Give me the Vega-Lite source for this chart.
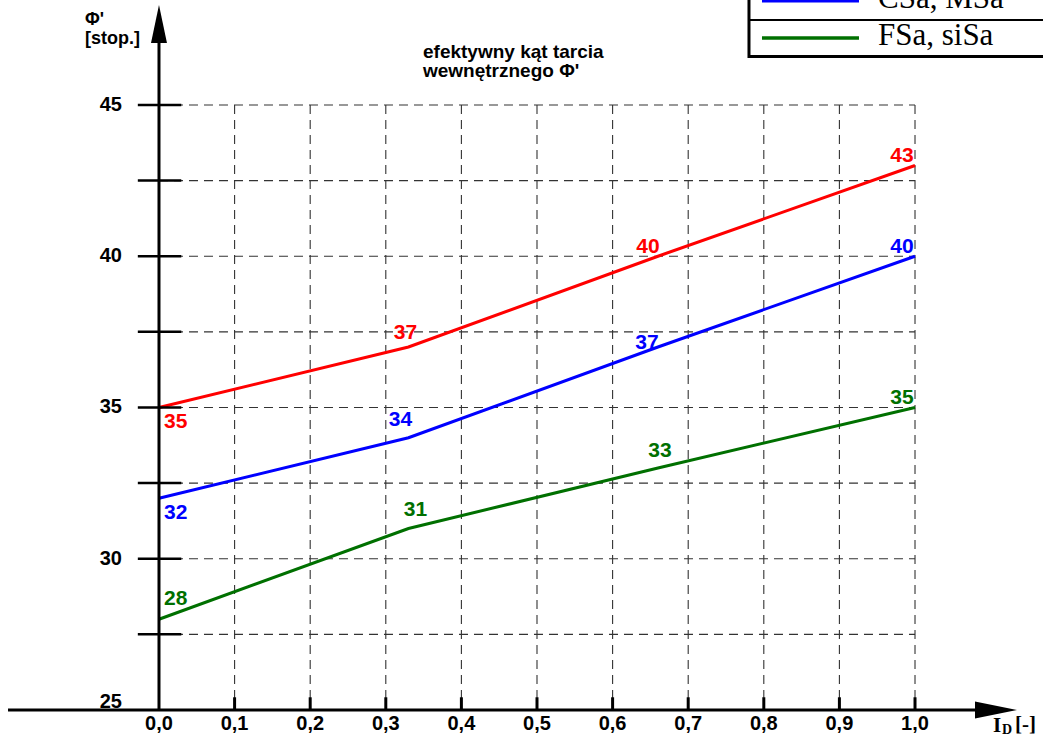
{
  "$schema": "https://vega.github.io/schema/vega-lite/v6.json",
  "width": 1043,
  "height": 738,
  "autosize": "none",
  "padding": 0,
  "background": "white",
  "config": {
    "view": {"stroke": null},
    "locale": {"number": {"decimal": ",", "thousands": " ", "grouping": [3], "currency": ["", " zł"]}},
    "text": {"font": "Liberation Sans", "fontWeight": "bold"}
  },
  "datasets": {
    "one": [{}],
    "series": [
      {"series": "Gr, saGr", "x": 0, "y": 35},
      {"series": "Gr, saGr", "x": 0.33, "y": 37},
      {"series": "Gr, saGr", "x": 0.66, "y": 40},
      {"series": "Gr, saGr", "x": 1.0, "y": 43},
      {"series": "CSa, MSa", "x": 0, "y": 32},
      {"series": "CSa, MSa", "x": 0.33, "y": 34},
      {"series": "CSa, MSa", "x": 0.66, "y": 37},
      {"series": "CSa, MSa", "x": 1.0, "y": 40},
      {"series": "FSa, siSa", "x": 0, "y": 28},
      {"series": "FSa, siSa", "x": 0.33, "y": 31},
      {"series": "FSa, siSa", "x": 0.66, "y": 33},
      {"series": "FSa, siSa", "x": 1.0, "y": 35}
    ],
    "hgrid": [{"y": 27.5}, {"y": 30}, {"y": 32.5}, {"y": 35}, {"y": 37.5}, {"y": 40}, {"y": 42.5}, {"y": 45}],
    "vgrid": [{"x": 0.1}, {"x": 0.2}, {"x": 0.3}, {"x": 0.4}, {"x": 0.5}, {"x": 0.6}, {"x": 0.7}, {"x": 0.8}, {"x": 0.9}, {"x": 1.0}],
    "ylab": [{"y": 25}, {"y": 30}, {"y": 35}, {"y": 40}, {"y": 45}],
    "xlab": [{"x": 0}, {"x": 0.1}, {"x": 0.2}, {"x": 0.3}, {"x": 0.4}, {"x": 0.5}, {"x": 0.6}, {"x": 0.7}, {"x": 0.8}, {"x": 0.9}, {"x": 1.0}]
  },
  "layer": [
    {
      "data": {"name": "hgrid"},
      "mark": {"type": "rule", "color": "#333333", "strokeWidth": 1.1, "strokeDash": [9, 6]},
      "encoding": {
        "y": {"field": "y", "type": "quantitative", "scale": {"domain": [24.074, 48.471], "nice": false, "zero": false}, "axis": null},
        "x": {"datum": 0, "type": "quantitative", "scale": {"domain": [-0.2103, 1.1693], "nice": false, "zero": false}, "axis": null},
        "x2": {"datum": 1}
      }
    },
    {
      "data": {"name": "vgrid"},
      "mark": {"type": "rule", "color": "#333333", "strokeWidth": 1.1, "strokeDash": [9, 6]},
      "encoding": {
        "x": {"field": "x", "type": "quantitative", "scale": {"domain": [-0.2103, 1.1693], "nice": false, "zero": false}, "axis": null},
        "y": {"datum": 45, "type": "quantitative", "scale": {"domain": [24.074, 48.471], "nice": false, "zero": false}, "axis": null},
        "y2": {"datum": 25}
      }
    },
    {
      "data": {"name": "series"},
      "mark": {"type": "line", "strokeWidth": 3},
      "encoding": {
        "x": {"field": "x", "type": "quantitative", "scale": {"domain": [-0.2103, 1.1693], "nice": false, "zero": false}, "axis": null},
        "y": {"field": "y", "type": "quantitative", "scale": {"domain": [24.074, 48.471], "nice": false, "zero": false}, "axis": null},
        "color": {"field": "series", "type": "nominal", "scale": {"domain": ["Gr, saGr", "CSa, MSa", "FSa, siSa"], "range": ["#ff0000", "#0000ff", "#007000"]}, "legend": null},
        "order": {"field": "x"}
      }
    },
    {
      "data": {"name": "hgrid"},
      "mark": {"type": "rule", "color": "black", "strokeWidth": 2.5},
      "encoding": {
        "y": {"field": "y", "type": "quantitative", "scale": {"domain": [24.074, 48.471], "nice": false, "zero": false}, "axis": null},
        "x": {"datum": -0.028, "type": "quantitative", "scale": {"domain": [-0.2103, 1.1693], "nice": false, "zero": false}, "axis": null},
        "x2": {"datum": 0.0295}
      }
    },
    {
      "data": {"name": "vgrid"},
      "mark": {"type": "rule", "color": "black", "strokeWidth": 3},
      "encoding": {
        "x": {"field": "x", "type": "quantitative", "scale": {"domain": [-0.2103, 1.1693], "nice": false, "zero": false}, "axis": null},
        "y": {"datum": 25, "type": "quantitative", "scale": {"domain": [24.074, 48.471], "nice": false, "zero": false}, "axis": null},
        "y2": {"datum": 25.42}
      }
    },
    {
      "data": {"name": "one"},
      "mark": {"type": "rule", "color": "black", "strokeWidth": 3},
      "encoding": {
        "x": {"datum": 0, "type": "quantitative", "scale": {"domain": [-0.2103, 1.1693], "nice": false, "zero": false}, "axis": null},
        "y": {"datum": 25, "type": "quantitative", "scale": {"domain": [24.074, 48.471], "nice": false, "zero": false}, "axis": null},
        "y2": {"datum": 47.6}
      }
    },
    {
      "data": {"name": "one"},
      "mark": {"type": "rule", "color": "black", "strokeWidth": 3},
      "encoding": {
        "y": {"datum": 25, "type": "quantitative", "scale": {"domain": [24.074, 48.471], "nice": false, "zero": false}, "axis": null},
        "x": {"datum": -0.1997, "type": "quantitative", "scale": {"domain": [-0.2103, 1.1693], "nice": false, "zero": false}, "axis": null},
        "x2": {"datum": 1.1}
      }
    },
    {
      "data": {"name": "one"},
      "mark": {"type": "point", "filled": true, "color": "black", "opacity": 1, "strokeWidth": 0, "shape": "M0,-1L0.42,1L-0.42,1Z", "size": 1444},
      "encoding": {
        "x": {"datum": 0, "type": "quantitative", "scale": {"domain": [-0.2103, 1.1693], "nice": false, "zero": false}, "axis": null},
        "y": {"datum": 47.678, "type": "quantitative", "scale": {"domain": [24.074, 48.471], "nice": false, "zero": false}, "axis": null}
      }
    },
    {
      "data": {"name": "one"},
      "mark": {"type": "point", "filled": true, "color": "black", "opacity": 1, "strokeWidth": 0, "shape": "M1,0L-1,-0.4L-1,0.4Z", "size": 1764},
      "encoding": {
        "x": {"datum": 1.1071, "type": "quantitative", "scale": {"domain": [-0.2103, 1.1693], "nice": false, "zero": false}, "axis": null},
        "y": {"datum": 25, "type": "quantitative", "scale": {"domain": [24.074, 48.471], "nice": false, "zero": false}, "axis": null}
      }
    },
    {
      "data": {"name": "ylab"},
      "transform": [{"filter": "datum.y > 25"}],
      "mark": {"type": "text", "align": "right", "baseline": "middle", "fontSize": 20, "color": "black"},
      "encoding": {
        "y": {"field": "y", "type": "quantitative", "scale": {"domain": [24.074, 48.471], "nice": false, "zero": false}, "axis": null},
        "x": {"datum": -0.049, "type": "quantitative", "scale": {"domain": [-0.2103, 1.1693], "nice": false, "zero": false}, "axis": null},
        "text": {"field": "y", "type": "quantitative", "format": "d"}
      }
    },
    {
      "data": {"name": "ylab"},
      "transform": [{"filter": "datum.y == 25"}],
      "mark": {"type": "text", "align": "right", "baseline": "alphabetic", "fontSize": 20, "color": "black", "dy": -2},
      "encoding": {
        "y": {"field": "y", "type": "quantitative", "scale": {"domain": [24.074, 48.471], "nice": false, "zero": false}, "axis": null},
        "x": {"datum": -0.049, "type": "quantitative", "scale": {"domain": [-0.2103, 1.1693], "nice": false, "zero": false}, "axis": null},
        "text": {"field": "y", "type": "quantitative", "format": "d"}
      }
    },
    {
      "data": {"name": "xlab"},
      "mark": {"type": "text", "align": "center", "baseline": "middle", "fontSize": 20, "color": "black"},
      "encoding": {
        "x": {"field": "x", "type": "quantitative", "scale": {"domain": [-0.2103, 1.1693], "nice": false, "zero": false}, "axis": null},
        "y": {"datum": 24.54, "type": "quantitative", "scale": {"domain": [24.074, 48.471], "nice": false, "zero": false}, "axis": null},
        "text": {"field": "x", "type": "quantitative", "format": ".1f"}
      }
    },
    {
      "data": {"name": "series"},
      "transform": [{"filter": "datum.x == 0 && datum.series != 'FSa, siSa'"}],
      "mark": {"type": "text", "align": "left", "baseline": "top", "fontSize": 21, "dx": 5, "dy": 4},
      "encoding": {
        "x": {"field": "x", "type": "quantitative", "scale": {"domain": [-0.2103, 1.1693], "nice": false, "zero": false}, "axis": null},
        "y": {"field": "y", "type": "quantitative", "scale": {"domain": [24.074, 48.471], "nice": false, "zero": false}, "axis": null},
        "color": {"field": "series", "type": "nominal", "scale": {"domain": ["Gr, saGr", "CSa, MSa", "FSa, siSa"], "range": ["#ff0000", "#0000ff", "#007000"]}, "legend": null},
        "text": {"field": "y", "type": "quantitative", "format": "d"}
      }
    },
    {
      "data": {"name": "series"},
      "transform": [{"filter": "datum.x == 0 && datum.series == 'FSa, siSa'"}],
      "mark": {"type": "text", "align": "left", "baseline": "bottom", "fontSize": 21, "dx": 5, "dy": -10},
      "encoding": {
        "x": {"field": "x", "type": "quantitative", "scale": {"domain": [-0.2103, 1.1693], "nice": false, "zero": false}, "axis": null},
        "y": {"field": "y", "type": "quantitative", "scale": {"domain": [24.074, 48.471], "nice": false, "zero": false}, "axis": null},
        "color": {"field": "series", "type": "nominal", "scale": {"domain": ["Gr, saGr", "CSa, MSa", "FSa, siSa"], "range": ["#ff0000", "#0000ff", "#007000"]}, "legend": null},
        "text": {"field": "y", "type": "quantitative", "format": "d"}
      }
    },
    {
      "data": {"name": "series"},
      "transform": [{"filter": "datum.x == 0.33 && datum.series == 'Gr, saGr'"}],
      "mark": {"type": "text", "align": "center", "baseline": "bottom", "fontSize": 21, "dx": -3, "dy": -4},
      "encoding": {
        "x": {"field": "x", "type": "quantitative", "scale": {"domain": [-0.2103, 1.1693], "nice": false, "zero": false}, "axis": null},
        "y": {"field": "y", "type": "quantitative", "scale": {"domain": [24.074, 48.471], "nice": false, "zero": false}, "axis": null},
        "color": {"field": "series", "type": "nominal", "scale": {"domain": ["Gr, saGr", "CSa, MSa", "FSa, siSa"], "range": ["#ff0000", "#0000ff", "#007000"]}, "legend": null},
        "text": {"field": "y", "type": "quantitative", "format": "d"}
      }
    },
    {
      "data": {"name": "series"},
      "transform": [{"filter": "datum.x == 0.33 && datum.series == 'CSa, MSa'"}],
      "mark": {"type": "text", "align": "center", "baseline": "bottom", "fontSize": 21, "dx": -8, "dy": -8},
      "encoding": {
        "x": {"field": "x", "type": "quantitative", "scale": {"domain": [-0.2103, 1.1693], "nice": false, "zero": false}, "axis": null},
        "y": {"field": "y", "type": "quantitative", "scale": {"domain": [24.074, 48.471], "nice": false, "zero": false}, "axis": null},
        "color": {"field": "series", "type": "nominal", "scale": {"domain": ["Gr, saGr", "CSa, MSa", "FSa, siSa"], "range": ["#ff0000", "#0000ff", "#007000"]}, "legend": null},
        "text": {"field": "y", "type": "quantitative", "format": "d"}
      }
    },
    {
      "data": {"name": "series"},
      "transform": [{"filter": "datum.x == 0.33 && datum.series == 'FSa, siSa'"}],
      "mark": {"type": "text", "align": "center", "baseline": "bottom", "fontSize": 21, "dx": 7, "dy": -8},
      "encoding": {
        "x": {"field": "x", "type": "quantitative", "scale": {"domain": [-0.2103, 1.1693], "nice": false, "zero": false}, "axis": null},
        "y": {"field": "y", "type": "quantitative", "scale": {"domain": [24.074, 48.471], "nice": false, "zero": false}, "axis": null},
        "color": {"field": "series", "type": "nominal", "scale": {"domain": ["Gr, saGr", "CSa, MSa", "FSa, siSa"], "range": ["#ff0000", "#0000ff", "#007000"]}, "legend": null},
        "text": {"field": "y", "type": "quantitative", "format": "d"}
      }
    },
    {
      "data": {"name": "series"},
      "transform": [{"filter": "datum.x == 0.66 && datum.series == 'Gr, saGr'"}],
      "mark": {"type": "text", "align": "center", "baseline": "bottom", "fontSize": 21, "dx": -10, "dy": 1},
      "encoding": {
        "x": {"field": "x", "type": "quantitative", "scale": {"domain": [-0.2103, 1.1693], "nice": false, "zero": false}, "axis": null},
        "y": {"field": "y", "type": "quantitative", "scale": {"domain": [24.074, 48.471], "nice": false, "zero": false}, "axis": null},
        "color": {"field": "series", "type": "nominal", "scale": {"domain": ["Gr, saGr", "CSa, MSa", "FSa, siSa"], "range": ["#ff0000", "#0000ff", "#007000"]}, "legend": null},
        "text": {"field": "y", "type": "quantitative", "format": "d"}
      }
    },
    {
      "data": {"name": "series"},
      "transform": [{"filter": "datum.x == 0.66 && datum.series == 'CSa, MSa'"}],
      "mark": {"type": "text", "align": "center", "baseline": "bottom", "fontSize": 21, "dx": -11, "dy": 6},
      "encoding": {
        "x": {"field": "x", "type": "quantitative", "scale": {"domain": [-0.2103, 1.1693], "nice": false, "zero": false}, "axis": null},
        "y": {"field": "y", "type": "quantitative", "scale": {"domain": [24.074, 48.471], "nice": false, "zero": false}, "axis": null},
        "color": {"field": "series", "type": "nominal", "scale": {"domain": ["Gr, saGr", "CSa, MSa", "FSa, siSa"], "range": ["#ff0000", "#0000ff", "#007000"]}, "legend": null},
        "text": {"field": "y", "type": "quantitative", "format": "d"}
      }
    },
    {
      "data": {"name": "series"},
      "transform": [{"filter": "datum.x == 0.66 && datum.series == 'FSa, siSa'"}],
      "mark": {"type": "text", "align": "center", "baseline": "bottom", "fontSize": 21, "dx": 2, "dy": -7},
      "encoding": {
        "x": {"field": "x", "type": "quantitative", "scale": {"domain": [-0.2103, 1.1693], "nice": false, "zero": false}, "axis": null},
        "y": {"field": "y", "type": "quantitative", "scale": {"domain": [24.074, 48.471], "nice": false, "zero": false}, "axis": null},
        "color": {"field": "series", "type": "nominal", "scale": {"domain": ["Gr, saGr", "CSa, MSa", "FSa, siSa"], "range": ["#ff0000", "#0000ff", "#007000"]}, "legend": null},
        "text": {"field": "y", "type": "quantitative", "format": "d"}
      }
    },
    {
      "data": {"name": "series"},
      "transform": [{"filter": "datum.x == 1"}],
      "mark": {"type": "text", "align": "center", "baseline": "bottom", "fontSize": 21, "dx": -13, "dy": 1},
      "encoding": {
        "x": {"field": "x", "type": "quantitative", "scale": {"domain": [-0.2103, 1.1693], "nice": false, "zero": false}, "axis": null},
        "y": {"field": "y", "type": "quantitative", "scale": {"domain": [24.074, 48.471], "nice": false, "zero": false}, "axis": null},
        "color": {"field": "series", "type": "nominal", "scale": {"domain": ["Gr, saGr", "CSa, MSa", "FSa, siSa"], "range": ["#ff0000", "#0000ff", "#007000"]}, "legend": null},
        "text": {"field": "y", "type": "quantitative", "format": "d"}
      }
    },
    {
      "data": {"name": "one"},
      "mark": {"type": "text", "align": "left", "baseline": "top", "fontSize": 19, "lineHeight": 19, "color": "black", "text": ["efektywny kąt tarcia", "wewnętrznego Φ'"]},
      "encoding": {
        "x": {"datum": 0.3492, "type": "quantitative", "scale": {"domain": [-0.2103, 1.1693], "nice": false, "zero": false}, "axis": null},
        "y": {"datum": 47.05, "type": "quantitative", "scale": {"domain": [24.074, 48.471], "nice": false, "zero": false}, "axis": null}
      }
    },
    {
      "data": {"name": "one"},
      "mark": {"type": "text", "align": "left", "baseline": "top", "fontSize": 18, "lineHeight": 19, "color": "black", "text": ["Φ'", "[stop.]"]},
      "encoding": {
        "x": {"datum": -0.0979, "type": "quantitative", "scale": {"domain": [-0.2103, 1.1693], "nice": false, "zero": false}, "axis": null},
        "y": {"datum": 48.1, "type": "quantitative", "scale": {"domain": [24.074, 48.471], "nice": false, "zero": false}, "axis": null}
      }
    },
    {
      "data": {"name": "one"},
      "mark": {"type": "text", "align": "left", "baseline": "alphabetic", "font": "Liberation Serif", "fontSize": 21, "color": "black", "text": "I"},
      "encoding": {
        "x": {"datum": 1.1032, "type": "quantitative", "scale": {"domain": [-0.2103, 1.1693], "nice": false, "zero": false}, "axis": null},
        "y": {"datum": 24.28, "type": "quantitative", "scale": {"domain": [24.074, 48.471], "nice": false, "zero": false}, "axis": null}
      }
    },
    {
      "data": {"name": "one"},
      "mark": {"type": "text", "align": "left", "baseline": "alphabetic", "font": "Liberation Serif", "fontSize": 14, "color": "black", "text": "D"},
      "encoding": {
        "x": {"datum": 1.1151, "type": "quantitative", "scale": {"domain": [-0.2103, 1.1693], "nice": false, "zero": false}, "axis": null},
        "y": {"datum": 24.21, "type": "quantitative", "scale": {"domain": [24.074, 48.471], "nice": false, "zero": false}, "axis": null}
      }
    },
    {
      "data": {"name": "one"},
      "mark": {"type": "text", "align": "left", "baseline": "alphabetic", "font": "Liberation Serif", "fontSize": 21, "color": "black", "text": "[-]"},
      "encoding": {
        "x": {"datum": 1.1323, "type": "quantitative", "scale": {"domain": [-0.2103, 1.1693], "nice": false, "zero": false}, "axis": null},
        "y": {"datum": 24.3, "type": "quantitative", "scale": {"domain": [24.074, 48.471], "nice": false, "zero": false}, "axis": null}
      }
    },
    {
      "data": {"name": "one"},
      "mark": {"type": "rect", "fill": "white", "stroke": "black", "strokeWidth": 3},
      "encoding": {
        "x": {"datum": 0.7804, "type": "quantitative", "scale": {"domain": [-0.2103, 1.1693], "nice": false, "zero": false}, "axis": null},
        "x2": {"datum": 1.3},
        "y": {"datum": 46.6, "type": "quantitative", "scale": {"domain": [24.074, 48.471], "nice": false, "zero": false}, "axis": null},
        "y2": {"datum": 50.5}
      }
    },
    {
      "data": {"name": "one"},
      "mark": {"type": "rule", "color": "black", "strokeWidth": 2},
      "encoding": {
        "x": {"datum": 0.7804, "type": "quantitative", "scale": {"domain": [-0.2103, 1.1693], "nice": false, "zero": false}, "axis": null},
        "x2": {"datum": 1.3},
        "y": {"datum": 47.81, "type": "quantitative", "scale": {"domain": [24.074, 48.471], "nice": false, "zero": false}, "axis": null}
      }
    },
    {
      "data": {"name": "one"},
      "mark": {"type": "rule", "color": "#007000", "strokeWidth": 3.5},
      "encoding": {
        "x": {"datum": 0.7976, "type": "quantitative", "scale": {"domain": [-0.2103, 1.1693], "nice": false, "zero": false}, "axis": null},
        "x2": {"datum": 0.9259},
        "y": {"datum": 47.215, "type": "quantitative", "scale": {"domain": [24.074, 48.471], "nice": false, "zero": false}, "axis": null}
      }
    },
    {
      "data": {"name": "one"},
      "mark": {"type": "rule", "color": "#0000ff", "strokeWidth": 3.5},
      "encoding": {
        "x": {"datum": 0.7976, "type": "quantitative", "scale": {"domain": [-0.2103, 1.1693], "nice": false, "zero": false}, "axis": null},
        "x2": {"datum": 0.9259},
        "y": {"datum": 48.45, "type": "quantitative", "scale": {"domain": [24.074, 48.471], "nice": false, "zero": false}, "axis": null}
      }
    },
    {
      "data": {"name": "one"},
      "mark": {"type": "text", "align": "left", "baseline": "alphabetic", "font": "Liberation Serif", "fontWeight": "normal", "fontSize": 31, "color": "black", "text": "FSa, siSa"},
      "encoding": {
        "x": {"datum": 0.951, "type": "quantitative", "scale": {"domain": [-0.2103, 1.1693], "nice": false, "zero": false}, "axis": null},
        "y": {"datum": 46.98, "type": "quantitative", "scale": {"domain": [24.074, 48.471], "nice": false, "zero": false}, "axis": null}
      }
    },
    {
      "data": {"name": "one"},
      "mark": {"type": "text", "align": "left", "baseline": "alphabetic", "font": "Liberation Serif", "fontWeight": "normal", "fontSize": 31, "color": "black", "text": "CSa, MSa"},
      "encoding": {
        "x": {"datum": 0.951, "type": "quantitative", "scale": {"domain": [-0.2103, 1.1693], "nice": false, "zero": false}, "axis": null},
        "y": {"datum": 48.22, "type": "quantitative", "scale": {"domain": [24.074, 48.471], "nice": false, "zero": false}, "axis": null}
      }
    }
  ]
}
